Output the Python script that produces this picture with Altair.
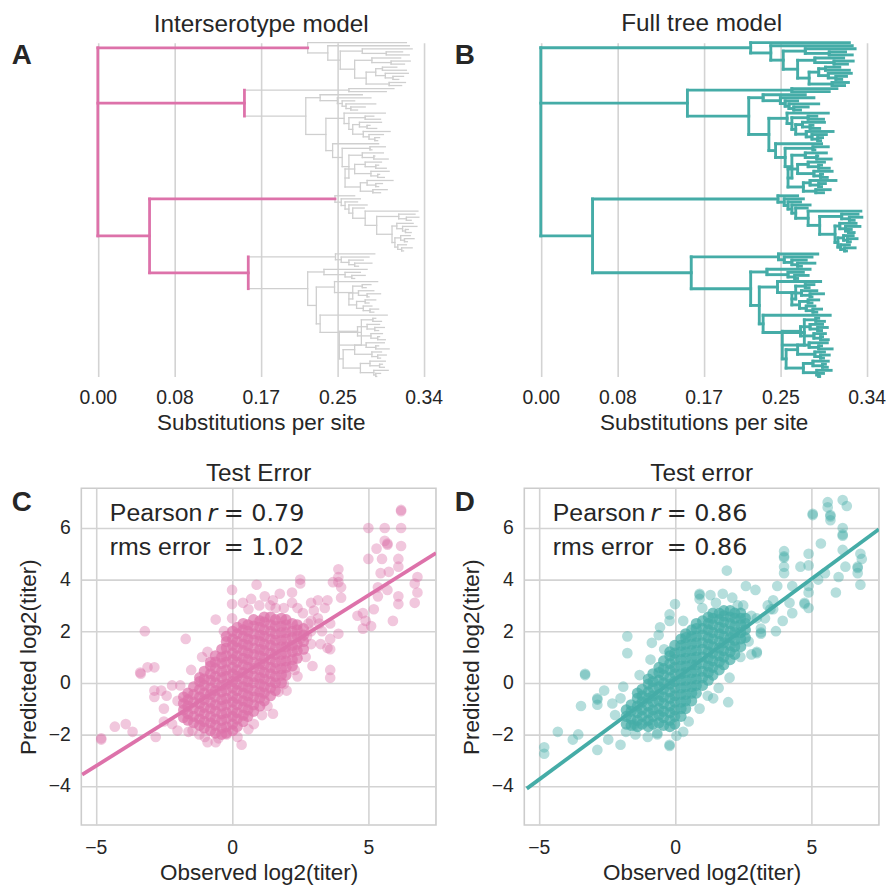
import altair as alt
import pandas as pd

# ---------------- colours ----------------
PINK = "#dd72aa"
TEAL = "#45aca7"
BRANCH_GREY = "#cfcfcf"
GRID = "#d3d3d3"
TXT = "#262626"

# ---------------- tree data ----------------
# nested clades; number after ")" = node depth (x 1000 substitutions/site)
# "*" = interserotype node (incoming branch and node line highlighted), "^" = incoming branch highlighted only
clade1 = "(322,(325,((328,(318,325)301)276,((316,(326,320)306)286,(((312,322)297,(324,(319,314)308)300)290,(321,317)304)280)268)253)240)219^"
topL2 = "(309,301)262"
subA2 = "(276,(285,(268,(290,(279,271)264)259)255)250)232"
n257 = "(300,((288,295)279,((296,(284,291)281)273,(305,(298,(294,292)289)283)277)266)262)257"
n245 = "(293,((300,286)284,((298,(289,303)288)276,(((296,(293,301)290)279,(304,(294,299)292)285)268,((308,(297,293)290)281,(302,295)287)274)258)262)255)245"
clade2 = "(" + topL2 + ",(" + subA2 + ",(" + n257 + "," + n245 + ")238)217)153*"
rest3a = "(334,((331,(335,327)322)314,((329,(333,(324,327)321)318)312,((326,(330,323)320)316,(322,(328,319)317)313)310)307)291)279"
clade3a = "(268,(274,(271,(281,(278," + rest3a + ")266)262)258)254)247.5^"
top3b = "(289,(283,(277,(286,272)268)262)254)248"
subTop3b = "(281,(274,(279,268)265)258)236"
n247 = "(292,((285,280)276,((288,(295,283)281)272,((290,283)279,(286,(293,288)284)277)270)262)266)247"
n232 = "(302,((290,296)287,(((294,(299,293)289)281,(297,(294,300)292)285)271,(((299,(293,304)290)280,(296,(301,295)292)286)268,((300,(297,299)294)284,(303,(295,291)290)288)274)256)252)275)232"
clade3b = "(" + top3b + ",(" + subTop3b + ",(" + n247 + "," + n232 + ")228)219)157*"
tree_newick = "(" + clade1 + "," + clade2 + ",(" + clade3a + "," + clade3b + ")54*)0*"

tree_ticks = [0.0, 0.08, 0.17, 0.25, 0.34]
tree_titles = ["Interserotype model", "Full tree model"]
panel_letters = ["A", "B", "C", "D"]

# ---------------- scatter data ----------------
# dense core, given as observed value -> predicted values
core_C = {
    -1.78: [-1.35, -1.05, -0.8, -0.55],
    -1.62: [-1.45, -1.2, -0.9, -0.65, -0.4],
    -1.41: [-1.55, -1.3, -1.0, -0.75, -0.45, -0.15],
    -1.19: [-1.65, -1.4, -1.1, -0.8, -0.55, -0.25, 0.05, 0.2],
    -1.02: [-1.75, -1.5, -1.2, -0.95, -0.65, -0.4, -0.1, 0.15, 0.45],
    -0.79: [-1.85, -1.55, -1.3, -1.0, -0.75, -0.45, -0.2, 0.1, 0.35, 0.65, 0.8],
    -0.61: [-1.95, -1.65, -1.4, -1.1, -0.85, -0.55, -0.3, 0.0, 0.25, 0.55, 0.8, 1.05],
    -0.38: [-2.0, -1.75, -1.45, -1.2, -0.9, -0.65, -0.35, -0.1, 0.2, 0.45, 0.75, 1.0, 1.3],
    -0.21: [-1.95, -1.7, -1.4, -1.15, -0.85, -0.6, -0.3, -0.05, 0.25, 0.5, 0.8, 1.05, 1.35, 1.6, 1.8],
    0.02: [-1.85, -1.6, -1.3, -1.05, -0.75, -0.5, -0.2, 0.05, 0.35, 0.6, 0.9, 1.15, 1.45, 1.7, 2.0],
    0.19: [-1.7, -1.4, -1.15, -0.85, -0.6, -0.3, -0.05, 0.25, 0.5, 0.8, 1.05, 1.35, 1.6, 1.9, 2.15],
    0.41: [-1.5, -1.25, -0.95, -0.7, -0.4, -0.15, 0.15, 0.4, 0.7, 0.95, 1.25, 1.5, 1.8, 2.05, 2.3],
    0.58: [-1.3, -1.05, -0.75, -0.5, -0.2, 0.05, 0.35, 0.6, 0.9, 1.15, 1.45, 1.7, 2.0, 2.25],
    0.79: [-1.1, -0.85, -0.55, -0.3, 0.0, 0.25, 0.55, 0.8, 1.1, 1.35, 1.65, 1.9, 2.2, 2.45],
    1.02: [-0.9, -0.6, -0.35, -0.05, 0.2, 0.5, 0.75, 1.05, 1.3, 1.6, 1.85, 2.15, 2.4],
    1.18: [-0.7, -0.4, -0.15, 0.15, 0.4, 0.7, 0.95, 1.25, 1.5, 1.8, 2.05, 2.35, 2.55],
    1.41: [-0.5, -0.2, 0.05, 0.35, 0.6, 0.9, 1.15, 1.45, 1.7, 2.0, 2.25, 2.55],
    1.59: [-0.3, 0.0, 0.25, 0.55, 0.8, 1.1, 1.35, 1.65, 1.9, 2.2, 2.45],
    1.81: [0.0, 0.3, 0.55, 0.85, 1.1, 1.4, 1.65, 1.95, 2.2, 2.5],
    1.98: [0.3, 0.6, 0.85, 1.15, 1.4, 1.7, 1.95, 2.25, 2.45],
    2.21: [0.65, 0.9, 1.2, 1.45, 1.75, 2.0, 2.3],
    2.39: [0.95, 1.25, 1.5, 1.8, 2.05, 2.25],
    2.62: [1.3, 1.6, 1.85, 2.1],
}
outer_C = [
    (6.2, 6.7), (6.2, 6.65), (5.0, 6.0), (5.6, 6.0), (6.2, 6.0), (5.6, 5.5), (5.7, 5.4), (5.7, 5.35), (5.3, 5.2), (6.2, 5.3),
    (5.0, 4.8), (5.5, 4.8), (6.1, 4.8), (6.1, 4.5), (5.75, 4.3), (5.45, 4.25), (3.9, 4.4), (3.9, 4.1), (3.9, 3.9), (3.7, 3.9),
    (2.5, 4.0), (2.5, 3.85), (6.8, 4.1), (6.7, 3.85), (6.8, 3.5), (6.7, 3.1), (6.1, 3.35), (6.1, 3.05), (5.7, 3.6), (5.35, 3.35),
    (5.35, 3.7), (5.2, 2.85), (4.8, 2.7), (4.9, 2.4), (5.1, 2.2), (4.8, 2.1), (4.6, 2.6), (5.9, 2.4), (4.0, 3.7), (4.0, 3.3),
    (3.5, 3.2), (3.4, 2.9), (3.15, 3.2), (2.9, 3.1), (3.6, 2.3), (3.3, 2.0), (3.6, 1.7), (3.9, 1.9), (3.5, 1.35), (3.6, 1.3),
    (3.25, 1.5), (2.9, 1.5), (2.95, 0.65), (3.6, 0.5), (3.6, 0.2), (3.15, 2.5),
    (0.0, 3.6), (0.0, 3.05), (0.0, 2.5), (0.9, 3.8), (0.7, 3.25), (1.2, 3.35), (1.4, 3.0), (1.75, 3.45), (2.2, 3.5), (2.2, 3.1),
    (0.6, 2.85), (-0.6, 2.45), (-1.7, 1.7), (-1.1, 1.0), (-3.2, 2.0), (-3.37, 0.4), (-3.35, 0.35), (-3.1, 0.6), (-2.85, 0.6),
    (-2.85, -0.3), (-2.85, -0.55), (-2.6, -0.3), (-2.2, -0.1), (-1.9, -0.1), (-2.5, -1.0), (-2.0, -0.7), (-4.3, -1.7),
    (-3.9, -1.6), (-3.65, -1.9), (-4.8, -2.15), (-4.8, -2.2), (-2.8, -2.1), (-2.0, -1.85), (-1.45, -1.85), (-0.5, -2.15),
    (-0.2, -2.0), (0.35, -2.4), (1.1, -1.25), (1.7, -0.35), (1.9, -0.05), (2.4, 0.25), (2.5, 1.7),
    (-0.9, 1.2), (-1.5, 0.5), (-0.3, 2.0), (1.0, 3.0), (1.6, 2.9), (2.6, 2.7), (2.8, 2.3), (3.0, 2.8), (2.7, 1.0), (2.3, 0.5),
    (-2.4, -0.5), (-2.2, -1.6), (-1.2, -2.0), (-0.9, -2.3), (0.6, -1.8), (0.8, -1.6), (1.3, -0.9), (1.5, -1.2), (2.0, -0.3),
    (-1.0, -2.1), (0.4, 3.1), (1.5, 3.2), (2.9, 2.0), (2.75, 1.8), (-1.6, -1.9), (-2.5, -1.5), (0.2, -2.1), (2.9, 2.4),
    (3.2, 2.3), (2.4, 2.9), (-0.6, -2.3), (1.9, 2.9),
]
core_D = {
    -1.79: [-1.6, -1.3, -1.05],
    -1.61: [-1.65, -1.4, -1.1, -0.85],
    -1.38: [-1.7, -1.45, -1.15, -0.9, -0.6, -0.4],
    -1.21: [-1.6, -1.3, -1.05, -0.75, -0.5, -0.25],
    -0.98: [-1.7, -1.45, -1.15, -0.9, -0.6, -0.35, -0.05, 0.15],
    -0.81: [-1.6, -1.3, -1.05, -0.75, -0.5, -0.2, 0.05, 0.35],
    -0.59: [-1.55, -1.25, -1.0, -0.7, -0.45, -0.15, 0.1, 0.4, 0.6],
    -0.42: [-1.65, -1.35, -1.1, -0.8, -0.55, -0.25, 0.0, 0.3, 0.55, 0.85],
    -0.19: [-1.7, -1.45, -1.15, -0.9, -0.6, -0.35, -0.05, 0.2, 0.5, 0.75, 1.05, 1.2],
    -0.01: [-1.6, -1.3, -1.05, -0.75, -0.5, -0.2, 0.05, 0.35, 0.6, 0.9, 1.15, 1.45],
    0.22: [-1.3, -1.0, -0.75, -0.45, -0.2, 0.1, 0.35, 0.65, 0.9, 1.2, 1.45, 1.7],
    0.39: [-1.0, -0.7, -0.45, -0.15, 0.1, 0.4, 0.65, 0.95, 1.2, 1.5, 1.75, 1.9],
    0.61: [-0.7, -0.4, -0.15, 0.15, 0.4, 0.7, 0.95, 1.25, 1.5, 1.8, 2.05],
    0.78: [-0.4, -0.1, 0.15, 0.45, 0.7, 1.0, 1.25, 1.55, 1.8, 2.1, 2.3],
    1.01: [-0.1, 0.2, 0.45, 0.75, 1.0, 1.3, 1.55, 1.85, 2.1, 2.4],
    1.22: [0.1, 0.4, 0.65, 0.95, 1.2, 1.5, 1.75, 2.05, 2.3, 2.55],
    1.39: [0.3, 0.6, 0.85, 1.15, 1.4, 1.7, 1.95, 2.25, 2.5, 2.7],
    1.62: [0.5, 0.8, 1.05, 1.35, 1.6, 1.9, 2.15, 2.45, 2.7],
    1.79: [0.7, 1.0, 1.25, 1.55, 1.8, 2.1, 2.35, 2.6, 2.8],
    2.02: [0.9, 1.2, 1.45, 1.75, 2.0, 2.3, 2.55, 2.8],
    2.19: [1.1, 1.4, 1.65, 1.95, 2.2, 2.5, 2.7],
    2.41: [1.4, 1.7, 1.95, 2.25, 2.5, 2.7],
    2.58: [1.75, 2.05, 2.3, 2.5],
}
outer_D = [
    (5.6, 7.0), (6.15, 7.08), (6.3, 6.85), (5.6, 6.8), (5.05, 6.55), (5.05, 6.5), (5.7, 6.5), (5.7, 6.45), (5.7, 6.3), (6.15, 6.0),
    (6.15, 5.75), (6.15, 5.7), (5.35, 5.4), (6.15, 5.15), (4.0, 5.1), (4.0, 4.9), (4.0, 4.85), (4.0, 4.5), (4.0, 4.25), (4.9, 5.0),
    (4.9, 4.55), (4.6, 4.5), (6.8, 5.0), (6.85, 4.8), (6.7, 4.5), (6.7, 4.45), (6.7, 4.25), (6.8, 3.8), (6.25, 4.5), (6.0, 4.1),
    (5.5, 4.25), (5.25, 4.0), (5.9, 3.5), (4.9, 3.75), (4.9, 3.5), (4.75, 3.1), (4.75, 3.05), (4.9, 2.9), (4.3, 3.75), (4.3, 2.7),
    (3.95, 2.4), (3.6, 2.85), (3.7, 2.0), (3.75, 3.75), (3.15, 2.1), (3.15, 1.95), (3.15, 1.9), (3.0, 1.2), (3.0, 1.15), (3.5, 2.85),
    (2.95, 3.6), (2.6, 3.75), (1.9, 4.35), (1.75, 3.45), (0.9, 3.45), (0.9, 3.4), (0.9, 3.25), (0.0, 3.05), (-0.2, 2.65), (-0.2, 2.4),
    (-0.55, 2.15), (-0.85, 1.55), (-0.6, 1.85), (-1.75, 1.8), (-1.75, 1.15), (-3.3, 0.35), (-3.3, 0.3), (-3.45, -0.9), (-2.85, -0.6),
    (-2.85, -0.65), (-2.85, -0.85), (-2.6, -0.3), (-1.9, -0.15), (-2.2, -1.25), (-1.5, -1.6), (-1.5, -1.65), (-1.45, -2.0),
    (-0.65, -2.0), (-0.65, -1.95), (-1.05, -1.5), (-0.2, -2.4), (-0.2, -2.45), (0.05, -2.05), (0.5, -1.5), (1.95, -0.75), (1.4, -0.6),
    (-4.3, -1.9), (-3.75, -2.2), (-3.55, -2.0), (-4.8, -2.5), (-4.8, -2.75), (-2.85, -2.6), (-2.45, -2.2), (-2.0, -2.4),
    (2.5, 3.0), (2.8, 2.6), (2.3, 3.0), (1.0, 2.9), (1.5, 3.1), (3.3, 2.5), (2.7, 1.6), (2.4, 1.0), (3.0, 2.5), (2.0, 0.2),
    (1.2, -0.5), (0.9, -1.0), (-0.9, 0.9), (-1.3, 0.3), (-2.3, -0.8), (-1.0, -2.1), (3.6, 3.2), (3.4, 3.0), (4.2, 3.1), (2.1, 3.3),
    (1.3, 3.4), (0.3, 2.4), (-0.4, 1.3), (2.8, 1.1), (-2.0, -0.6), (-1.8, -1.9), (0.3, -1.9), (1.6, -0.2),
]
# regression line end points (observed, predicted)
fit_C_x = [-5.5, 7.48]
fit_C_y = [-3.56, 5.03]
fit_D_x = [-5.44, 7.48]
fit_D_y = [-4.1, 5.95]
pearson_r = ["0.79", "0.86"]
rms_error = ["1.02", "0.86"]
scatter_titles = ["Test Error", "Test error"]
x_ticks = [-5, 0, 5]
y_ticks = [-4, -2, 0, 2, 4, 6]


# ---------------- tree helpers ----------------
def parse(s):
    pos = 0

    def node():
        nonlocal pos
        kids = []
        if s[pos] == "(":
            pos += 1
            kids.append(node())
            while s[pos] == ",":
                pos += 1
                kids.append(node())
            pos += 1  # ')'
        start = pos
        while pos < len(s) and (s[pos].isdigit() or s[pos] == "."):
            pos += 1
        d = float(s[start:pos])
        hi_in, hi_node = False, False
        if pos < len(s) and s[pos] in "*^":
            hi_in = True
            hi_node = s[pos] == "*"
            pos += 1
        return {"d": d, "kids": kids, "hi_in": hi_in, "hi_node": hi_node}

    return node()


def layout(n, counter):
    if not n["kids"]:
        n["y"] = counter[0]
        counter[0] += 1
    else:
        for k in n["kids"]:
            layout(k, counter)
        n["y"] = (n["kids"][0]["y"] + n["kids"][-1]["y"]) / 2


def segments(n, parent_d, out):
    if parent_d is not None:
        out.append({"x": parent_d / 1000, "x2": n["d"] / 1000, "y": n["y"], "y2": n["y"], "hi": n["hi_in"]})
    if n["kids"]:
        out.append({"x": n["d"] / 1000, "x2": n["d"] / 1000, "y": n["kids"][0]["y"],
                    "y2": n["kids"][-1]["y"], "hi": n["hi_node"]})
        for k in n["kids"]:
            segments(k, n["d"], out)


root = parse(tree_newick)
cnt = [0]
layout(root, cnt)
n_tips = cnt[0]
seg_rows = []
segments(root, None, seg_rows)
seg_df = pd.DataFrame(seg_rows)

PANEL_W = 357
TREE_H, SC_H = 336, 339
TREE_RANGE = [16.6, 344.6]


def letter_layer(letter, dy):
    return alt.Chart(pd.DataFrame({"t": [letter]})).mark_text(
        fontSize=28, fontWeight="bold", align="left", baseline="alphabetic", color=TXT,
        font="Liberation Sans").encode(text="t:N", x=alt.value(-70), y=alt.value(dy))


def tree_panel(idx):
    xs = alt.Scale(domain=[0, 0.34], range=TREE_RANGE, nice=False, zero=False)
    ys = alt.Scale(domain=[0, n_tips - 1], reverse=True, nice=False, zero=False)
    xax = alt.Axis(values=tree_ticks, format=".2f", grid=True, domain=False, ticks=False,
                   labelFlush=False, labelPadding=12, titlePadding=5, title="Substitutions per site")
    enc = dict(x=alt.X("x:Q", scale=xs, axis=xax), x2="x2:Q",
               y=alt.Y("y:Q", scale=ys, axis=None), y2="y2:Q")
    if idx == 0:
        lo = alt.Chart(seg_df[~seg_df["hi"]]).mark_rule(color=BRANCH_GREY, strokeWidth=1.3, strokeCap="square").encode(**enc)
        hi = alt.Chart(seg_df[seg_df["hi"]]).mark_rule(color=PINK, strokeWidth=2.8, strokeCap="square").encode(**enc)
        layers = [lo, hi]
    else:
        layers = [alt.Chart(seg_df).mark_rule(color=TEAL, strokeWidth=2.9, strokeCap="square").encode(**enc)]
    layers.append(letter_layer(panel_letters[idx], 21))
    return alt.layer(*layers).properties(
        width=PANEL_W, height=TREE_H,
        title=alt.TitleParams(tree_titles[idx], offset=4.5, dx=[2.5, 0][idx]),
        view=alt.ViewBackground(strokeWidth=0))


def scatter_panel(idx):
    core = core_C if idx == 0 else core_D
    outer = outer_C if idx == 0 else outer_D
    color = PINK if idx == 0 else TEAL
    core_df = pd.DataFrame({"obs": [x for x, ys in core.items() for _ in ys],
                            "pred": [y for _, ys in core.items() for y in ys]})
    outer_df = pd.DataFrame({"obs": [p[0] for p in outer], "pred": [p[1] for p in outer]})
    line_df = pd.DataFrame({"obs": fit_C_x if idx == 0 else fit_D_x,
                            "pred": fit_C_y if idx == 0 else fit_D_y})
    xs = alt.Scale(domain=[-5.53, 7.48], nice=False, zero=False)
    ys = alt.Scale(domain=[-5.51, 7.54], nice=False, zero=False)
    xax = alt.Axis(values=x_ticks, grid=True, domain=False, ticks=False, labelFlush=False,
                   labelPadding=13.5, titlePadding=5, title="Observed log2(titer)")
    yax = alt.Axis(values=y_ticks, grid=True, domain=False, ticks=False, labelFlush=False,
                   labelPadding=11, titlePadding=8, title="Predicted log2(titer)")
    enc = dict(x=alt.X("obs:Q", scale=xs, axis=xax), y=alt.Y("pred:Q", scale=ys, axis=yax))
    pts_out = alt.Chart(outer_df).mark_circle(size=115, opacity=0.4, color=color).encode(**enc)
    pts_core = alt.Chart(core_df).mark_circle(size=125, opacity=0.7, color=color).encode(**enc)
    line = alt.Chart(line_df).mark_line(color=color, strokeWidth=3.8, clip=True).encode(**enc)
    ann = pd.DataFrame({"a": ["Pearson"], "r": ["r"], "v": ["= " + pearson_r[idx]],
                        "b": ["rms error"], "w": ["= " + rms_error[idx]]})
    base = alt.Chart(ann)
    t1 = base.mark_text(fontSize=25, align="left", baseline="alphabetic", color=TXT,
                        font="Liberation Sans").encode(text="a:N", x=alt.value(28.7), y=alt.value(32.5))
    t2 = base.mark_text(fontSize=24, align="left", baseline="alphabetic", color=TXT, fontStyle="italic",
                        font="DejaVu Sans").encode(text="r:N", x=alt.value(127), y=alt.value(32.5))
    t3 = base.mark_text(fontSize=24, align="left", baseline="alphabetic", color=TXT,
                        font="DejaVu Sans").encode(text="v:N", x=alt.value(143.4), y=alt.value(32.5))
    t4 = base.mark_text(fontSize=25, align="left", baseline="alphabetic", color=TXT,
                        font="Liberation Sans").encode(text="b:N", x=alt.value(28.7), y=alt.value(67.7))
    t5 = base.mark_text(fontSize=24, align="left", baseline="alphabetic", color=TXT,
                        font="DejaVu Sans").encode(text="w:N", x=alt.value(143.4), y=alt.value(67.7))
    lt = letter_layer(panel_letters[idx + 2], 23.4)
    return alt.layer(pts_out, pts_core, line, t1, t2, t3, t4, t5, lt).properties(
        width=PANEL_W, height=SC_H,
        title=alt.TitleParams(scatter_titles[idx], offset=2),
        view=alt.ViewBackground(stroke="#cccccc", strokeWidth=1.6))


chart = alt.concat(
    tree_panel(0), tree_panel(1), scatter_panel(0), scatter_panel(1),
    columns=2, spacing={"row": 24.5, "column": 10.9}, align="each"
).properties(
    padding={"left": 2.8, "top": -1, "right": 0, "bottom": 0}
).configure(font="Liberation Sans").configure_axis(
    labelFont="Liberation Sans", titleFont="Liberation Sans", labelFontSize=19.5, titleFontSize=22.6,
    labelColor=TXT, titleColor=TXT, titleFontWeight="normal", gridColor=GRID, gridWidth=1.6
).configure_title(
    font="Liberation Sans", fontSize=24.5, fontWeight="normal", color=TXT, anchor="middle"
)

chart.save("out.html", embed_options={"renderer": "svg", "actions": False})
